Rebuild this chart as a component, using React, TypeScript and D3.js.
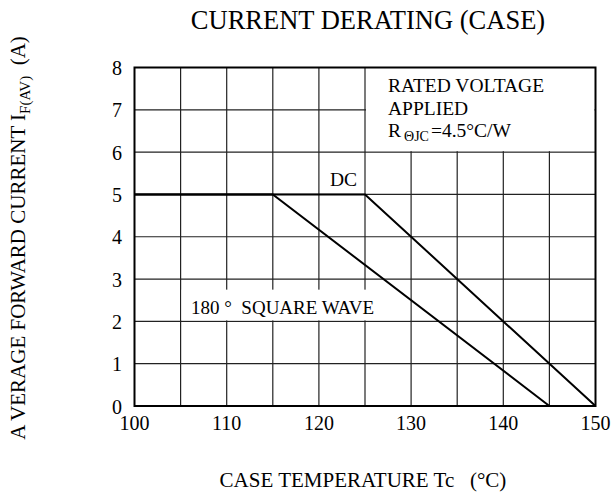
import React from "react";
import * as d3 from "d3";

const tempTicks = [100, 110, 120, 130, 140, 150];
const tempGrid = [105, 110, 115, 120, 125, 130, 135, 140, 145];
const currentTicks = [0, 1, 2, 3, 4, 5, 6, 7, 8];
const squareWaveTemp = [100, 115, 145];
const squareWaveCurrent = [5, 5, 0];
const dcTemp = [100, 125, 150];
const dcCurrent = [5, 5, 0];

const W = 616;
const H = 492;
const FONT = "'Liberation Serif', 'Times New Roman', serif";

export default function App() {
  const x = d3.scaleLinear().domain([100, 150]).range([134.5, 595.5]);
  const y = d3.scaleLinear().domain([0, 8]).range([406, 67.5]);
  const line = d3
    .line<[number, number]>()
    .x((d) => x(d[0]))
    .y((d) => y(d[1]));
  const sq = squareWaveTemp.map((t, i) => [t, squareWaveCurrent[i]] as [number, number]);
  const dc = dcTemp.map((t, i) => [t, dcCurrent[i]] as [number, number]);
  const gridColor = "#222";

  return (
    <svg
      width={W}
      height={H}
      style={{ position: "absolute", left: 0, top: 0, background: "#fff" }}
      fontFamily={FONT}
    >
      <rect x={0} y={0} width={W} height={H} fill="#fff" />
      {tempGrid.map((t) => (
        <line key={"gx" + t} x1={x(t)} x2={x(t)} y1={y(0)} y2={y(8)} stroke={gridColor} strokeWidth={1.2} />
      ))}
      {currentTicks.slice(1, 8).map((c) => (
        <line key={"gy" + c} x1={x(100)} x2={x(150)} y1={y(c)} y2={y(c)} stroke={gridColor} strokeWidth={1.2} />
      ))}
      <rect x={x(125) + 1} y={y(8)} width={x(150) - x(125) - 2} height={y(6) - y(8) - 1} fill="#fff" />
      <rect x={x(105) + 1} y={y(2.75)} width={x(130) - x(105) - 2} height={y(2) - y(2.75) - 1} fill="#fff" />
      <path d={line(sq) || ""} fill="none" stroke="#000" strokeWidth={2} />
      <path d={line(dc) || ""} fill="none" stroke="#000" strokeWidth={2} />
      <rect x={x(100)} y={y(8)} width={x(150) - x(100)} height={y(0) - y(8)} fill="none" stroke="#000" strokeWidth={2} />
      {tempTicks.map((t) => (
        <text key={"tx" + t} x={x(t)} y={430} textAnchor="middle" fontSize={20} fill="#000">
          {t}
        </text>
      ))}
      {currentTicks.map((c) => (
        <text key={"ty" + c} x={117} y={y(c) + 7.5} textAnchor="middle" fontSize={20} fill="#000">
          {c}
        </text>
      ))}
      <text x={368} y={29} textAnchor="middle" fontSize={26.5} fill="#000">
        CURRENT DERATING (CASE)
      </text>
      <text x={363} y={487} textAnchor="middle" fontSize={21} fill="#000" xmlSpace="preserve">
        CASE TEMPERATURE Tc   (°C)
      </text>
      <text
        transform="translate(25,238) rotate(-90)"
        textAnchor="middle"
        fontSize={21}
        fill="#000"
        xmlSpace="preserve"
      >
        A VERAGE FORWARD CURRENT I
        <tspan fontSize={15} dy={5}>F(AV)</tspan>
        <tspan dy={-5}>  (A)</tspan>
      </text>
      <text x={388} y={92} fontSize={19.5} fill="#000">RATED VOLTAGE</text>
      <text x={388} y={115} fontSize={19.5} fill="#000">APPLIED</text>
      <text x={388} y={137} fontSize={19.5} fill="#000" xmlSpace="preserve">
        R
        <tspan fontSize={14} dx={3} dy={4}>ΘJC</tspan>
        <tspan dx={2} dy={-4}>=4.5°C/W</tspan>
      </text>
      <text x={330} y={186} fontSize={19.5} fill="#000">DC</text>
      <text x={191} y={314} fontSize={19} fill="#000" xmlSpace="preserve">
        180 °  SQUARE WAVE
      </text>
    </svg>
  );
}
